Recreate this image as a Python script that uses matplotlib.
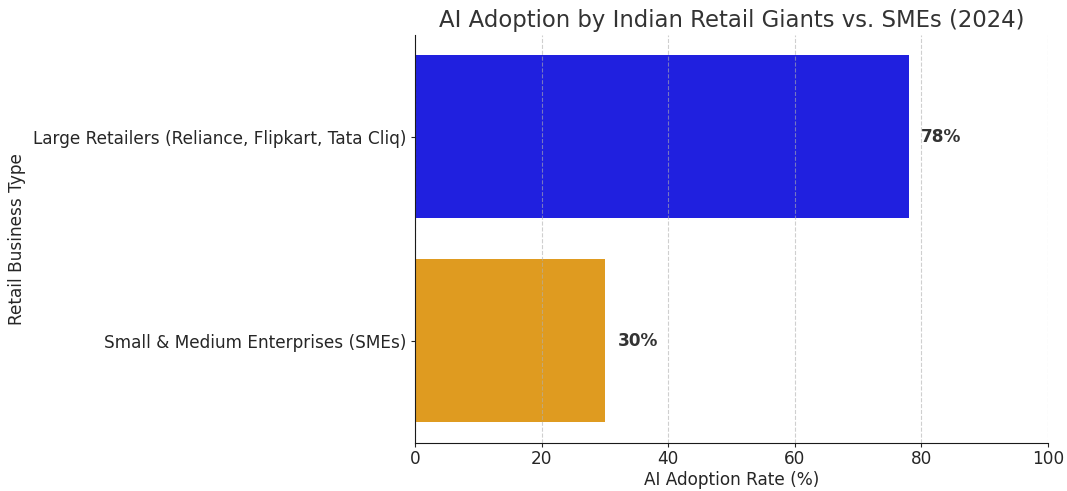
import matplotlib
matplotlib.use('Agg')
import matplotlib.pyplot as plt

# 数据
categories = ['Large Retailers (Reliance, Flipkart, Tata Cliq)',
              'Small & Medium Enterprises (SMEs)']
adoption_rate = [78, 30]
bar_colors = ['#2020df', '#df9b20']
x_ticks = [0, 20, 40, 60, 80, 100]

plt.rcParams['font.family'] = ['DejaVu Sans']

fig = plt.figure(figsize=(10.67, 4.91), dpi=100)
ax = fig.add_axes([0.389, 0.098, 0.593, 0.831])

ypos = list(range(len(categories)))
ax.barh(ypos, adoption_rate, height=0.8, color=bar_colors, zorder=1)

# 数值标注
for y, v in zip(ypos, adoption_rate):
    ax.text(v + 2, y, '{}%'.format(v), va='center', ha='left',
            fontsize=12.2, fontweight='bold', color='#333333')

ax.set_yticks(ypos)
ax.set_yticklabels(categories)
ax.set_ylim(1.5, -0.5)
ax.set_xlim(0, 100)
ax.set_xticks(x_ticks)

ax.tick_params(axis='both', labelsize=12.2, colors='#262626', pad=2, length=3)
ax.tick_params(axis='y', pad=3.5)
ax.set_xlabel('AI Adoption Rate (%)', fontsize=12.2, color='#262626', labelpad=2)
ax.set_ylabel('Retail Business Type', fontsize=12.2, color='#262626', labelpad=4.5)
ax.set_title('AI Adoption by Indian Retail Giants vs. SMEs (2024)',
             fontsize=16.4, color='#333333', pad=6)

ax.xaxis.grid(True, linestyle='--', color='#b0b0b0', alpha=0.6, linewidth=0.8, zorder=2)
ax.set_axisbelow(False)
for s in ['top', 'right']:
    ax.spines[s].set_visible(False)
for s in ['left', 'bottom']:
    ax.spines[s].set_color('#1a1a1a')
    ax.spines[s].set_zorder(5)

fig.savefig('out.png', dpi=100)
